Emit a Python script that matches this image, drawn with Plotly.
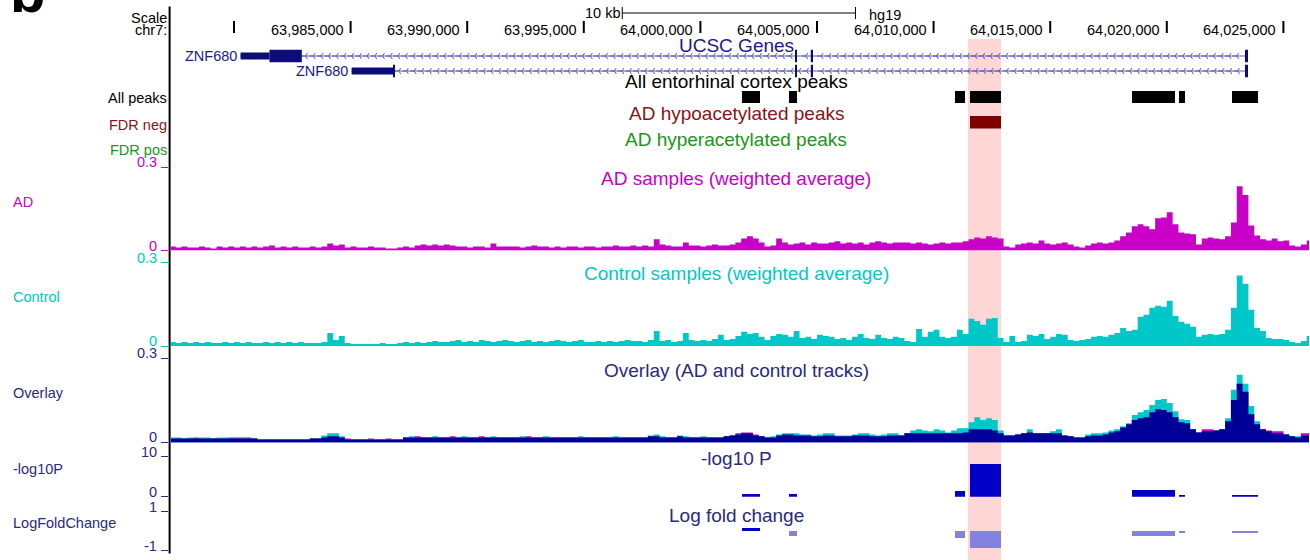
import numpy as np
import plotly.graph_objects as go

W, H = 1310, 560
FONT = "Liberation Sans, Arial, Helvetica, sans-serif"

# ---------------- data ----------------
VIEW = [63977298, 64026098]
HIGHLIGHT = [64011475, 64012890]

ruler_ticks = [63980000, 63985000, 63990000, 63995000, 64000000,
               64005000, 64010000, 64015000, 64020000, 64025000]
ruler_labels = ["", "63,985,000", "63,990,000", "63,995,000", "64,000,000",
                "64,005,000", "64,010,000", "64,015,000", "64,020,000", "64,025,000"]
scale_bar = [63996650, 64006650]

gene_names = ["ZNF680", "ZNF680"]
gene_rows = [1, 2]
gene_tx_start = [63980279, 63985043]
gene_tx_end = [64023482, 64023482]
gene_thick_start = [63981522, 63986818]
gene_exon_starts = [[63980279, 64004057, 64004734, 64023353],
                    [63985043, 64004057, 64004734, 64023353]]
gene_exon_ends = [[63982907, 64004142, 64004829, 64023482],
                  [63986904, 64004142, 64004829, 64023482]]

peak_starts = [64001784, 64003778, 64010918, 64011561, 64018508, 64020523, 64022796]
peak_ends = [64002556, 64004142, 64011347, 64012890, 64020352, 64020780, 64023911]
fdr_neg_flag = [0, 0, 0, 1, 0, 0, 0]
neg_log10_p = [0.7, 0.7, 1.4, 8.2, 1.7, 0.5, 0.4]
log_fold_change = [0.14, -0.27, -0.38, -0.88, -0.27, -0.10, -0.12]

BIN_START = 63977250
BIN_SIZE = 250

# weighted-average H3K27ac signal, in thousandths
ad_milli = [
    14, 11, 14, 11, 11, 14, 11, 7, 14, 11, 14, 11, 14, 11, 14, 11, 14, 18, 11, 14, 11, 14, 11,
    11, 14, 11, 14, 25, 18, 22, 11, 14, 11, 11, 14, 11, 11, 7, 7, 11, 14,
    11, 18, 22, 18, 22, 18, 22, 18, 14, 14, 11, 14, 14, 11, 25, 14, 14,
    14, 14, 11, 14, 18, 14, 14, 11, 14, 11, 14, 14, 11, 14, 14, 11,
    14,
    14, 18, 14, 14, 18, 14, 18, 14,
    40,
    22, 18, 14,
    14, 29,
    18, 18, 14, 18, 22, 18, 18, 22,
    29, 43, 51, 43,
    29,
    14, 18,
    43,
    29, 22,
    25, 29, 22, 29, 25, 25, 29, 33, 25, 29, 25, 29, 22, 29, 33, 29, 25, 29, 29,
    29, 25, 29, 25, 22, 25, 29, 25, 29, 29, 33,
    40, 47, 43, 51, 47, 43,
    14, 11,
    22, 25, 29, 25, 36, 25, 22, 25, 29, 22,
    14, 11, 18,
    25, 29, 25, 29,
    36, 51, 65, 87,
    94, 87, 76,
    116, 119,
    137,
    94,
    65, 61, 58,
    22,
    43, 47, 43, 40,
    51,
    101,
    231,
    199,
    90,
    54,
    40,
    36, 43, 33, 36,
    18, 14,
    22, 36,
]

control_milli = [
    14, 11, 14, 11, 14, 11, 14, 11, 11, 14, 11, 14, 11, 14, 11, 11, 14, 11, 14, 11, 14, 11, 14,
    11, 11, 11, 14, 47, 22, 36, 11, 7, 7, 7, 7, 7, 11, 7, 7, 11, 14,
    11, 14, 11, 14, 18, 14, 14, 18, 22, 14, 18, 14, 22, 18, 14, 18, 22,
    18, 14, 18, 22, 14, 18, 14, 18, 22, 18, 14, 18, 22, 14, 14, 18,
    14, 18, 14, 18, 22, 18, 18, 14, 22,
    54,
    18, 22, 14, 18, 47,
    22, 18, 22, 18, 25,
    40,
    22, 25,
    36, 51, 43, 47,
    33, 22,
    36, 43, 40, 33,
    54,
    29, 33, 25,
    40, 36, 33, 25, 29, 22,
    33, 43, 29,
    25, 40,
    29, 25, 33,
    29,
    18, 14, 61,
    33,
    51, 58,
    33, 29, 33,
    58, 43,
    98, 90,
    76,
    98, 101,
    29,
    14, 36,
    14, 18,
    40, 36, 43,
    25, 33,
    43, 40,
    22, 18, 22, 25,
    33, 36, 33, 40,
    47, 65,
    54, 58,
    105, 112,
    137, 145, 141,
    163,
    108,
    87, 80, 69,
    33,
    40, 43, 40, 43,
    58,
    137,
    253,
    224,
    130,
    65,
    54,
    29, 25, 25, 22,
    14, 11,
    18, 36,
]

# smoothed signals shown in the overlay track, in thousandths
overlay_ad_milli = [
    14, 14, 14, 14, 18, 14, 14, 14, 14, 14,
    18, 18, 18, 18, 14,
    11, 11, 11, 11, 11, 11, 11, 11, 11,
    14, 14,
    18, 22, 22, 18,
    14, 11, 11, 11, 14, 11, 11, 14, 11, 11,
    18, 18, 22, 18, 18, 18, 18, 18, 22, 18, 18, 18, 18, 22, 18, 18, 18, 18, 18, 18,
    18, 22, 18, 18, 18, 18, 18, 18, 18, 18, 18, 18, 18, 18, 18, 18, 18, 18, 18, 18,
    18, 18, 22, 22,
    18, 18, 18, 22, 18,
    18, 18, 18, 18, 18, 18, 22, 25,
    33, 36, 36, 29,
    22, 18, 18,
    25, 29, 29, 25, 25, 25,
    22, 22, 25, 25,
    22, 22, 22, 25,
    25, 25, 22,
    22, 22, 25, 25,
    25,
    33, 33, 33, 33, 33, 33, 33, 33, 33, 33, 36,
    47, 47, 47, 47, 43,
    33,
    25, 25, 29, 33,
    36,
    33, 33, 33,
    33, 33,
    25, 22, 18, 18,
    22, 25, 25, 29, 36, 40,
    54, 65,
    80, 87, 90,
    108, 119, 116,
    108, 90,
    72, 69,
    47, 36,
    47, 47, 43, 47,
    76,
    152,
    210,
    181,
    101,
    65,
    47,
    43, 40, 40,
    29, 22, 18,
    33, 33,
]

overlay_control_milli = [
    18, 18, 14, 18, 14, 18, 18, 14, 18, 18,
    14, 14, 14, 14, 14,
    11, 11, 11, 11, 11, 11, 11, 11, 11,
    14, 14,
    25, 33, 33, 22,
    11, 11, 11, 11, 11, 11, 11, 11, 11, 11,
    18, 22, 18, 18, 18, 22, 18, 18, 18, 18, 22, 18, 18, 18, 18, 22, 18, 18, 18, 18,
    22, 18, 18, 18, 22, 18, 18, 18, 18, 18, 22, 18, 18, 18, 18, 18, 22, 18, 18, 18,
    18, 18, 25, 29,
    22, 18, 18, 25, 22,
    18, 18, 22, 18, 18, 18, 22, 25,
    29, 33, 33, 25,
    22, 18, 22,
    29, 33, 33, 33, 29, 29,
    25, 29, 33, 33,
    25, 25, 25, 29,
    33, 33, 29,
    25, 29, 33, 33,
    25,
    33, 43, 47, 43, 40, 47, 43, 36, 43, 51, 51,
    72, 90, 80, 87, 80,
    43,
    25, 25, 29, 33,
    47,
    33, 33, 33,
    40, 47,
    25, 22, 18, 18,
    29, 33, 33, 36, 43, 47,
    58, 69,
    98, 108, 116,
    134, 152, 155,
    141, 112,
    83, 80,
    47, 36,
    40, 40, 43, 47,
    87,
    188,
    242,
    210,
    130,
    76,
    47,
    40, 33, 33,
    29, 22, 22,
    25, 25,
]

assert len(ad_milli) == len(control_milli) == len(overlay_ad_milli) == len(overlay_control_milli), (
    len(ad_milli), len(control_milli), len(overlay_ad_milli), len(overlay_control_milli))

# ---------------- colours ----------------
C_AD = "#c800c8"
C_CT = "#00c8c8"
C_OVL = "#000099"
C_NAVY_TXT = "#2a2a80"
C_GENE = "#0c0c78"
C_GENE_TXT = "#1a1a8c"
C_INTRON = "#5a5ab4"
C_RED = "#800000"
C_RED_TXT = "#8c1414"
C_GREEN_TXT = "#1a961a"
C_PBAR = "#0000c8"
C_FC_NEG = "#8282e0"
C_HL = "#ffd6d6"


def px(x):
    return x / W


def py(y):
    return 1 - y / H


def dom(top, bot):
    return [1 - bot / H, 1 - top / H]


def signal(m):
    return [v / 1000 for v in m]


n_bins = len(ad_milli)
edges = [BIN_START + BIN_SIZE * i for i in range(n_bins + 1)]

fig = go.Figure()


def fill_trace(vals, color, yaxis):
    v = signal(vals)
    fig.add_trace(go.Scatter(
        x=edges, y=v + [v[-1]], mode="lines", line=dict(width=0, color=color, shape="hv"),
        fill="tozeroy", fillcolor=color, yaxis=yaxis, hoverinfo="skip"))


# signal tracks
fill_trace(ad_milli, C_AD, "y")
fill_trace(control_milli, C_CT, "y2")
fill_trace(overlay_ad_milli, C_AD, "y3")
fill_trace(overlay_control_milli, C_CT, "y3")
fill_trace(list(np.minimum(overlay_ad_milli, overlay_control_milli)), C_OVL, "y3")

# peaks
centers = [(s + e) / 2 for s, e in zip(peak_starts, peak_ends)]
widths = [e - s for s, e in zip(peak_starts, peak_ends)]
fig.add_trace(go.Bar(x=centers, y=[1] * len(centers), width=widths, base=0,
                     marker=dict(color="black", line=dict(width=0)), yaxis="y7"))
neg_c = [c for c, f in zip(centers, fdr_neg_flag) if f]
neg_w = [w for w, f in zip(widths, fdr_neg_flag) if f]
fig.add_trace(go.Bar(x=neg_c, y=[1] * len(neg_c), width=neg_w, base=0,
                     marker=dict(color=C_RED, line=dict(width=0)), yaxis="y8"))
fig.add_trace(go.Bar(x=centers, y=neg_log10_p, width=widths, base=0,
                     marker=dict(color=C_PBAR, line=dict(width=0)), yaxis="y4"))
fig.add_trace(go.Bar(x=centers, y=log_fold_change, width=widths, base=0,
                     marker=dict(color=[C_PBAR if v > 0 else C_FC_NEG for v in log_fold_change],
                                 line=dict(width=0)), yaxis="y5"))

# genes
shapes = []
for g in range(len(gene_names)):
    row = gene_rows[g]
    fig.add_trace(go.Scatter(x=[gene_tx_start[g], gene_tx_end[g]], y=[row, row], mode="lines",
                             line=dict(color=C_INTRON, width=1), yaxis="y6", hoverinfo="skip"))
    first_end = gene_exon_ends[g][0]
    chev = [x for x in np.arange(first_end + 160, gene_tx_end[g] - 150, 330)
            if not any(s - 60 <= x <= e + 60 for s, e in zip(gene_exon_starts[g], gene_exon_ends[g]))]
    fig.add_trace(go.Scatter(x=chev, y=[row] * len(chev), mode="markers",
                             marker=dict(symbol="y-left", size=5, line=dict(color=C_INTRON, width=1)),
                             yaxis="y6", hoverinfo="skip"))
    for s, e in zip(gene_exon_starts[g], gene_exon_ends[g]):
        ts = gene_thick_start[g]
        if s < ts:
            shapes.append(dict(type="rect", xref="x", yref="y6", x0=s, x1=min(e, ts),
                               y0=row - 0.24, y1=row + 0.24, fillcolor=C_GENE, line=dict(width=0)))
        if e > ts:
            shapes.append(dict(type="rect", xref="x", yref="y6", x0=max(s, ts), x1=e,
                               y0=row - 0.42, y1=row + 0.42, fillcolor=C_GENE, line=dict(width=0)))

# ruler ticks
fig.add_trace(go.Scatter(x=ruler_ticks, y=[0.5] * len(ruler_ticks), mode="markers",
                         marker=dict(symbol="line-ns", size=12, line=dict(color="black", width=2)),
                         yaxis="y10", hoverinfo="skip"))
# scale bar
fig.add_trace(go.Scatter(x=scale_bar, y=[0.5, 0.5], mode="lines+markers",
                         line=dict(color="black", width=1),
                         marker=dict(symbol="line-ns", size=10, line=dict(color="black", width=1)),
                         yaxis="y11", hoverinfo="skip"))

# highlight + left rule
shapes.insert(0, dict(type="rect", xref="x", yref="paper", x0=HIGHLIGHT[0], x1=HIGHLIGHT[1],
                      y0=0, y1=py(39), fillcolor=C_HL, line=dict(width=0), layer="below"))
shapes.append(dict(type="line", xref="paper", yref="paper", x0=px(169.6), x1=px(169.6),
                   y0=py(553.5), y1=py(6.5), line=dict(color="black", width=2)))

ann = []


def text(x, y, t, color="black", size=14.5, xanchor="left", **kw):
    ann.append(dict(x=px(x), y=py(y), xref="paper", yref="paper", text=t, showarrow=False,
                    xanchor=xanchor, yanchor="middle", borderpad=0,
                    font=dict(family=FONT, size=size, color=color), **kw))


# panel letter
ann.append(dict(x=px(9), y=py(25), xref="paper", yref="paper", text="<b>b</b>", showarrow=False,
                xanchor="left", yanchor="bottom", borderpad=0,
                font=dict(family=FONT, size=58, color="black")))

text(168, 18, "Scale", xanchor="right")
text(168, 30, "chr7:", xanchor="right")
for t, lab in zip(ruler_ticks, ruler_labels):
    if lab:
        ann.append(dict(x=t, y=py(30), xref="x", yref="paper", text=lab, showarrow=False,
                        xanchor="right", yanchor="middle", xshift=-6, borderpad=0,
                        font=dict(family=FONT, size=14.5, color="black")))
ann.append(dict(x=scale_bar[0], y=py(12.5), xref="x", yref="paper", text="10 kb", showarrow=False,
                xanchor="right", yanchor="middle", xshift=-1, borderpad=0,
                font=dict(family=FONT, size=14.5, color="black")))
ann.append(dict(x=scale_bar[1], y=py(14.5), xref="x", yref="paper", text="hg19", showarrow=False,
                xanchor="left", yanchor="middle", xshift=13, borderpad=0,
                font=dict(family=FONT, size=14.5, color="black")))

for g in range(len(gene_names)):
    ann.append(dict(x=gene_tx_start[g], y=gene_rows[g], xref="x", yref="y6", text=gene_names[g],
                    showarrow=False, xanchor="right", yanchor="middle", xshift=-3, borderpad=0,
                    font=dict(family=FONT, size=14.5, color=C_GENE_TXT)))

CX = 736
TS = 19
text(CX, 45, "UCSC Genes", C_GENE_TXT, TS, "center")
text(CX, 81, "All entorhinal cortex peaks", "black", TS, "center")
text(CX, 114, "AD hypoacetylated peaks", C_RED_TXT, TS, "center")
text(CX, 139, "AD hyperacetylated peaks", C_GREEN_TXT, TS, "center")
text(CX, 178, "AD samples (weighted average)", C_AD, TS, "center")
text(CX, 273, "Control samples (weighted average)", C_CT, TS, "center")
text(CX, 370, "Overlay (AD and control tracks)", C_NAVY_TXT, TS, "center")
text(CX, 458, "-log10 P", C_NAVY_TXT, TS, "center")
text(CX, 515, "Log fold change", C_NAVY_TXT, TS, "center")

text(168, 98, "All peaks", "black", xanchor="right")
text(168, 125, "FDR neg", C_RED_TXT, xanchor="right")
text(168, 150, "FDR pos", C_GREEN_TXT, xanchor="right")
text(12, 202, "AD", C_AD)
text(12, 297, "Control", C_CT)
text(12, 393, "Overlay", C_NAVY_TXT)
text(12, 469, "-log10P", C_NAVY_TXT)
text(12, 523, "LogFoldChange", C_NAVY_TXT)

# axis value labels
for yax, vals, labs, col in [("y", [0, 0.3], ["0", "0.3"], C_AD),
                             ("y2", [0, 0.3], ["0", "0.3"], C_CT),
                             ("y3", [0, 0.3], ["0", "0.3"], C_NAVY_TXT),
                             ("y4", [0, 10], ["0", "10"], C_NAVY_TXT),
                             ("y5", [-1, 1], ["-1", "1"], C_NAVY_TXT)]:
    for v, l in zip(vals, labs):
        ann.append(dict(x=px(157.5), y=v, xref="paper", yref=yax, text=l, showarrow=False,
                        xanchor="right", yanchor="middle", yshift=5, borderpad=0,
                        font=dict(family=FONT, size=14.5, color=col)))

hidden = dict(visible=False, fixedrange=True)


def track_axis(d, rng, col, tv):
    return dict(domain=d, range=rng, anchor="free", position=px(168), showgrid=False,
                zeroline=False, showline=False, showticklabels=False, ticks="outside",
                ticklen=7, tickwidth=1, tickcolor=col, tickvals=tv)


fig.update_layout(
    width=W, height=H, margin=dict(l=0, r=0, t=0, b=0),
    paper_bgcolor="white", plot_bgcolor="rgba(0,0,0,0)",
    showlegend=False, hovermode=False, barmode="overlay", bargap=0,
    xaxis=dict(domain=[px(171), px(1309)], range=VIEW, visible=False, anchor="y"),
    yaxis=track_axis(dom(167, 250.5), [0, 0.3], C_AD, [0, 0.3]),
    yaxis2=track_axis(dom(262.5, 346), [0, 0.3], C_CT, [0, 0.3]),
    yaxis3=track_axis(dom(358.5, 442.5), [0, 0.3], C_NAVY_TXT, [0, 0.3]),
    yaxis4=track_axis(dom(456.7, 496.7), [0, 10], C_NAVY_TXT, [0, 10]),
    yaxis5=track_axis(dom(511.7, 550.5), [-1, 1], C_NAVY_TXT, [-1, 1]),
    yaxis6=dict(domain=dom(48.5, 78.5), range=[2.5, 0.5], **hidden),
    yaxis7=dict(domain=dom(91, 103), range=[0, 1], **hidden),
    yaxis8=dict(domain=dom(116, 128.5), range=[0, 1], **hidden),
    yaxis9=dict(domain=dom(141, 153), range=[0, 1], **hidden),
    yaxis10=dict(domain=dom(21, 33), range=[0, 1], **hidden),
    yaxis11=dict(domain=dom(7, 19), range=[0, 1], **hidden),
    shapes=shapes, annotations=ann,
)

fig.write_html("out.html", config={"displayModeBar": False, "staticPlot": True},
               post_script="document.body.style.margin='0px';")
